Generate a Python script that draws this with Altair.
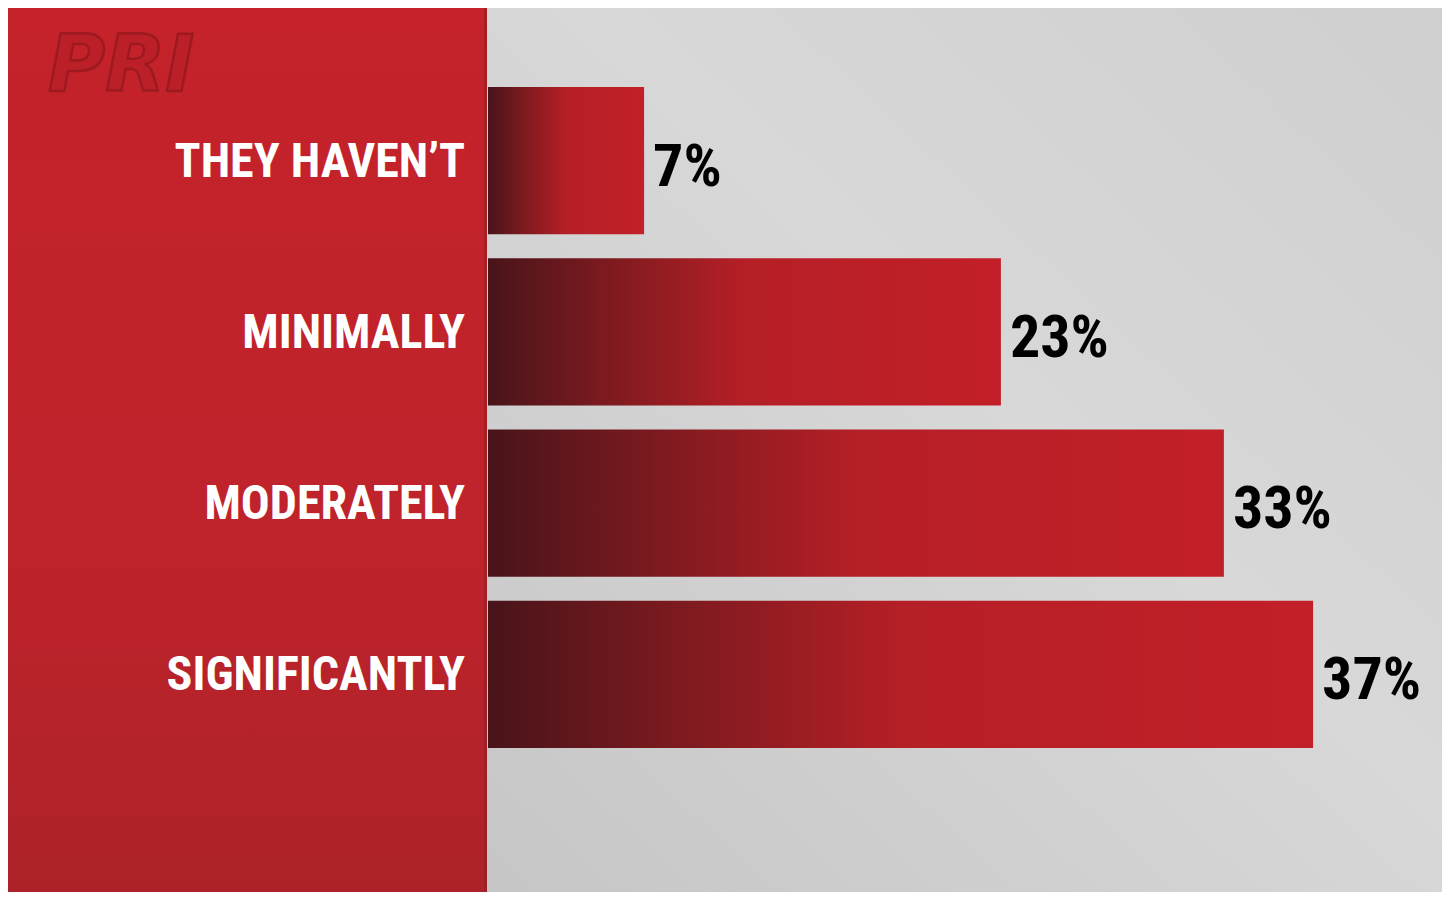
import altair as alt
import pandas as pd

# ---- data ----
categories = ["THEY HAVEN\u2019T", "MINIMALLY", "MODERATELY", "SIGNIFICANTLY"]
values = [7, 23, 33, 37]
value_labels = ["7%", "23%", "33%", "37%"]

df = pd.DataFrame({"category": categories, "value": values, "label": value_labels})
one = pd.DataFrame({"k": [0]})

W, H = 1434, 884
PANEL = 479
FONT = "Roboto Condensed, Liberation Sans Narrow, DejaVu Sans Condensed, sans-serif"

xscale = alt.Scale(domain=[0, 40], range=[480, 480 + 40 * 22.3], nice=False, zero=True)
yscale = alt.Scale(domain=categories, range=[79, 740], paddingInner=0.141, paddingOuter=0)

gray_bg = alt.Chart(one).mark_rect(
    color=alt.Gradient(
        gradient="linear",
        stops=[
            alt.GradientStop(offset=0, color="#c6c6c6"),
            alt.GradientStop(offset=0.55, color="#d8d8d8"),
            alt.GradientStop(offset=1, color="#cfcfcf"),
        ],
        x1=0, x2=1, y1=1, y2=0,
    )
).encode(x=alt.value(PANEL), x2=alt.value(W), y=alt.value(0), y2=alt.value(H))

red_panel = alt.Chart(one).mark_rect(
    color=alt.Gradient(
        gradient="linear",
        stops=[
            alt.GradientStop(offset=0, color="#c5222a"),
            alt.GradientStop(offset=0.6, color="#bf232b"),
            alt.GradientStop(offset=1, color="#ad2229"),
        ],
        x1=0, x2=0, y1=0, y2=1,
    )
).encode(x=alt.value(0), x2=alt.value(PANEL), y=alt.value(0), y2=alt.value(H))

panel_edge = alt.Chart(one).mark_rect(color="#8e1a20", opacity=0.5).encode(
    x=alt.value(PANEL - 3), x2=alt.value(PANEL), y=alt.value(0), y2=alt.value(H)
)

logo = alt.Chart(one).mark_text(
    text="PRI", font="DejaVu Sans", fontSize=78, fontWeight="bold", fontStyle="italic",
    align="left", baseline="middle", color="#bb1f27", stroke="#86161b", strokeWidth=2.5,
    strokeOpacity=0.6,
).encode(x=alt.value(40), y=alt.value(60))

bars = alt.Chart(df).mark_bar(
    color=alt.Gradient(
        gradient="linear",
        stops=[
            alt.GradientStop(offset=0, color="#48141a"),
            alt.GradientStop(offset=0.22, color="#7a1a1f"),
            alt.GradientStop(offset=0.5, color="#b51f26"),
            alt.GradientStop(offset=1, color="#c31f28"),
        ],
        x1=0, x2=1, y1=0, y2=0,
    )
).encode(
    x=alt.X("value:Q", scale=xscale, axis=None),
    y=alt.Y("category:N", scale=yscale, sort=categories, axis=None),
)

cat_labels = alt.Chart(df).mark_text(
    font=FONT, fontSize=48, fontWeight="bold", color="white",
    align="right", baseline="middle", dy=2,
).encode(
    x=alt.value(457),
    y=alt.Y("category:N", scale=yscale, sort=categories, axis=None),
    text="category:N",
)

val_labels = alt.Chart(df).mark_text(
    font=FONT, fontSize=60, fontWeight="bold", color="black",
    align="left", baseline="middle", dx=9, dy=7,
).encode(
    x=alt.X("value:Q", scale=xscale, axis=None),
    y=alt.Y("category:N", scale=yscale, sort=categories, axis=None),
    text="label:N",
)

chart = alt.layer(
    gray_bg, red_panel, panel_edge, logo, bars, cat_labels, val_labels
).properties(
    width=W, height=H, padding=0, background="white",
    autosize=alt.AutoSizeParams(type="none"),
).configure_view(stroke=None)

chart.save("out.html", embed_options={"renderer": "svg", "actions": False})
